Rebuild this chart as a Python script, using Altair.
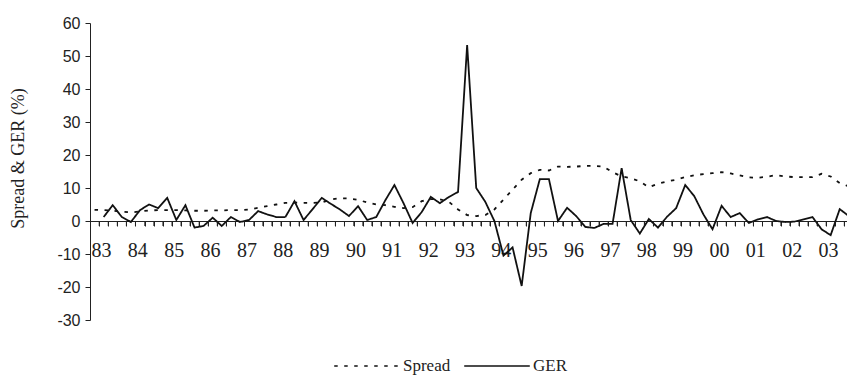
import altair as alt
import pandas as pd

# quarterly observations 1983Q1 .. 2003Q4
year_labels = ["83", "84", "85", "86", "87", "88", "89", "90", "91", "92", "93",
               "94", "95", "96", "97", "98", "99", "00", "01", "02", "03"]

spread = [3.4, 3.3, 3.1, 2.8, 2.6, 2.9, 3.2, 3.3, 3.3, 3.3, 3.2, 3.1, 3.1, 3.2, 3.2, 3.3,
          3.3, 3.5, 4.0, 4.5, 5.0, 5.5, 5.6, 5.5, 5.5, 5.6, 6.5, 6.9, 6.8, 6.4, 5.6, 5.0,
          4.8, 4.3, 3.9, 4.2, 6.0, 6.6, 6.6, 5.8, 3.5, 1.8, 1.5, 1.8, 3.5, 6.5, 9.5, 12.5,
          14.5, 15.5, 15.3, 16.5, 16.4, 16.5, 16.7, 16.7, 16.5, 14.8, 13.5, 13.0, 12.0, 10.2,
          11.3, 12.0, 12.5, 13.3, 13.9, 14.2, 14.5, 14.8, 14.4, 13.8, 13.2, 13.1, 13.4, 13.9,
          13.5, 13.3, 13.3, 13.3, 14.3, 13.5, 11.5, 10.5]

ger = [None, 1.2, 4.8, 1.2, -0.3, 3.3, 5.0, 3.9, 7.0, 0.3, 4.8, -2.0, -1.5, 1.0, -1.5, 1.2,
       -0.3, 0.3, 3.0, 2.0, 1.2, 1.2, 6.0, 0.3, 3.6, 7.0, 5.2, 3.5, 1.5, 4.5, 0.3, 1.2,
       6.3, 10.9, 5.4, -0.6, 2.7, 7.3, 5.4, 7.3, 8.8, 53.3, 10.0, 5.8, 0.0, -10.5, -8.0, -19.7,
       2.4, 12.7, 12.7, 0.0, 4.0, 1.5, -1.8, -2.1, -0.9, -0.9, 16.0, 0.3, -3.8, 0.6,
       -2.0, 1.3, 3.9, 10.9, 7.5, 2.0, -2.5, 4.6, 1.2, 2.4, -0.6, 0.5, 1.2, 0.0,
       -0.3, -0.2, 0.5, 1.2, -2.5, -4.3, 3.6, 1.5]

rows = []
for i, v in enumerate(spread):
    rows.append({"q": i + 0.5, "value": v, "series": "Spread"})
for i, v in enumerate(ger):
    if v is not None:
        rows.append({"q": i + 0.5, "value": v, "series": "GER"})
df = pd.DataFrame(rows)

# quarter boundaries (category edges) for the minor tick marks on the zero line
edges = pd.DataFrame({"q": list(range(1, 84)), "zero": [0] * 83})

label_expr = "datum.value % 4 == 0 ? [" + ",".join("'%s'" % y for y in year_labels) + "][datum.value / 4] : ''"

serif = "Liberation Serif"
sans = "Liberation Sans"

x_scale = alt.Scale(domain=[0, 83.3], nice=False, zero=False)
y_scale = alt.Scale(domain=[-30, 60], nice=False)

x_axis = alt.Axis(
    values=list(range(0, 84)),
    labelExpr=label_expr,
    title=None,
    grid=False,
    offset=-99,
    domainColor="#222",
    ticks=True,
    tickColor="#222",
    tickSize=5,
    labelFont=serif,
    labelFontSize=20,
    labelColor="#222",
    labelPadding=14,
    labelOffset=11,
    labelOverlap=False,
    labelFlush=False,
    labelBound=False,
)

y_axis = alt.Axis(
    values=list(range(-30, 61, 10)),
    labelExpr="toString(datum.value)",
    title="Spread & GER (%)",
    titleFont=serif,
    titleFontSize=18,
    titleFontWeight="normal",
    titleColor="#222",
    titleX=-72,
    titleY=135,
    titleAlign="center",
    titleBaseline="middle",
    grid=False,
    domainColor="#222",
    tickColor="#222",
    tickSize=5,
    labelFont=sans,
    labelFontSize=16,
    labelColor="#222",
    labelPadding=5,
    labelOverlap=False,
)

lines = (
    alt.Chart(df)
    .mark_line(clip=True, strokeWidth=1.8, color="#111")
    .encode(
        x=alt.X("q:Q", scale=x_scale, axis=x_axis),
        y=alt.Y("value:Q", scale=y_scale, axis=y_axis),
        strokeDash=alt.StrokeDash(
            "series:N",
            scale=alt.Scale(domain=["Spread", "GER"], range=[[3.5, 6.5], [1, 0]]),
            legend=alt.Legend(
                title=None,
                orient="none",
                direction="horizontal",
                legendX=243,
                legendY=309,
                symbolType="stroke",
                symbolSize=4300,
                symbolStrokeColor="#111",
                symbolStrokeWidth=1.6,
                labelFont=serif,
                labelFontSize=17,
                labelColor="#222",
                labelOffset=2,
                columnPadding=10,
                padding=0,
            ),
        ),
        order=alt.Order("q:Q"),
    )
)

ticks = (
    alt.Chart(edges)
    .mark_tick(orient="vertical", size=5, thickness=1, yOffset=2.5, color="#222")
    .encode(
        x=alt.X("q:Q", axis=None),
        y=alt.Y("zero:Q", axis=None),
    )
)

chart = (
    alt.layer(lines, ticks)
    .resolve_axis(x="independent", y="independent")
    .properties(
        width=757,
        height=297,
        autosize=alt.AutoSizeParams(type="none"),
        padding={"left": 90, "top": 23, "right": 0, "bottom": 68},
        background="white",
    )
    .configure_view(strokeWidth=0)
)

chart.save("out.html", embed_options={"renderer": "svg", "actions": False})
